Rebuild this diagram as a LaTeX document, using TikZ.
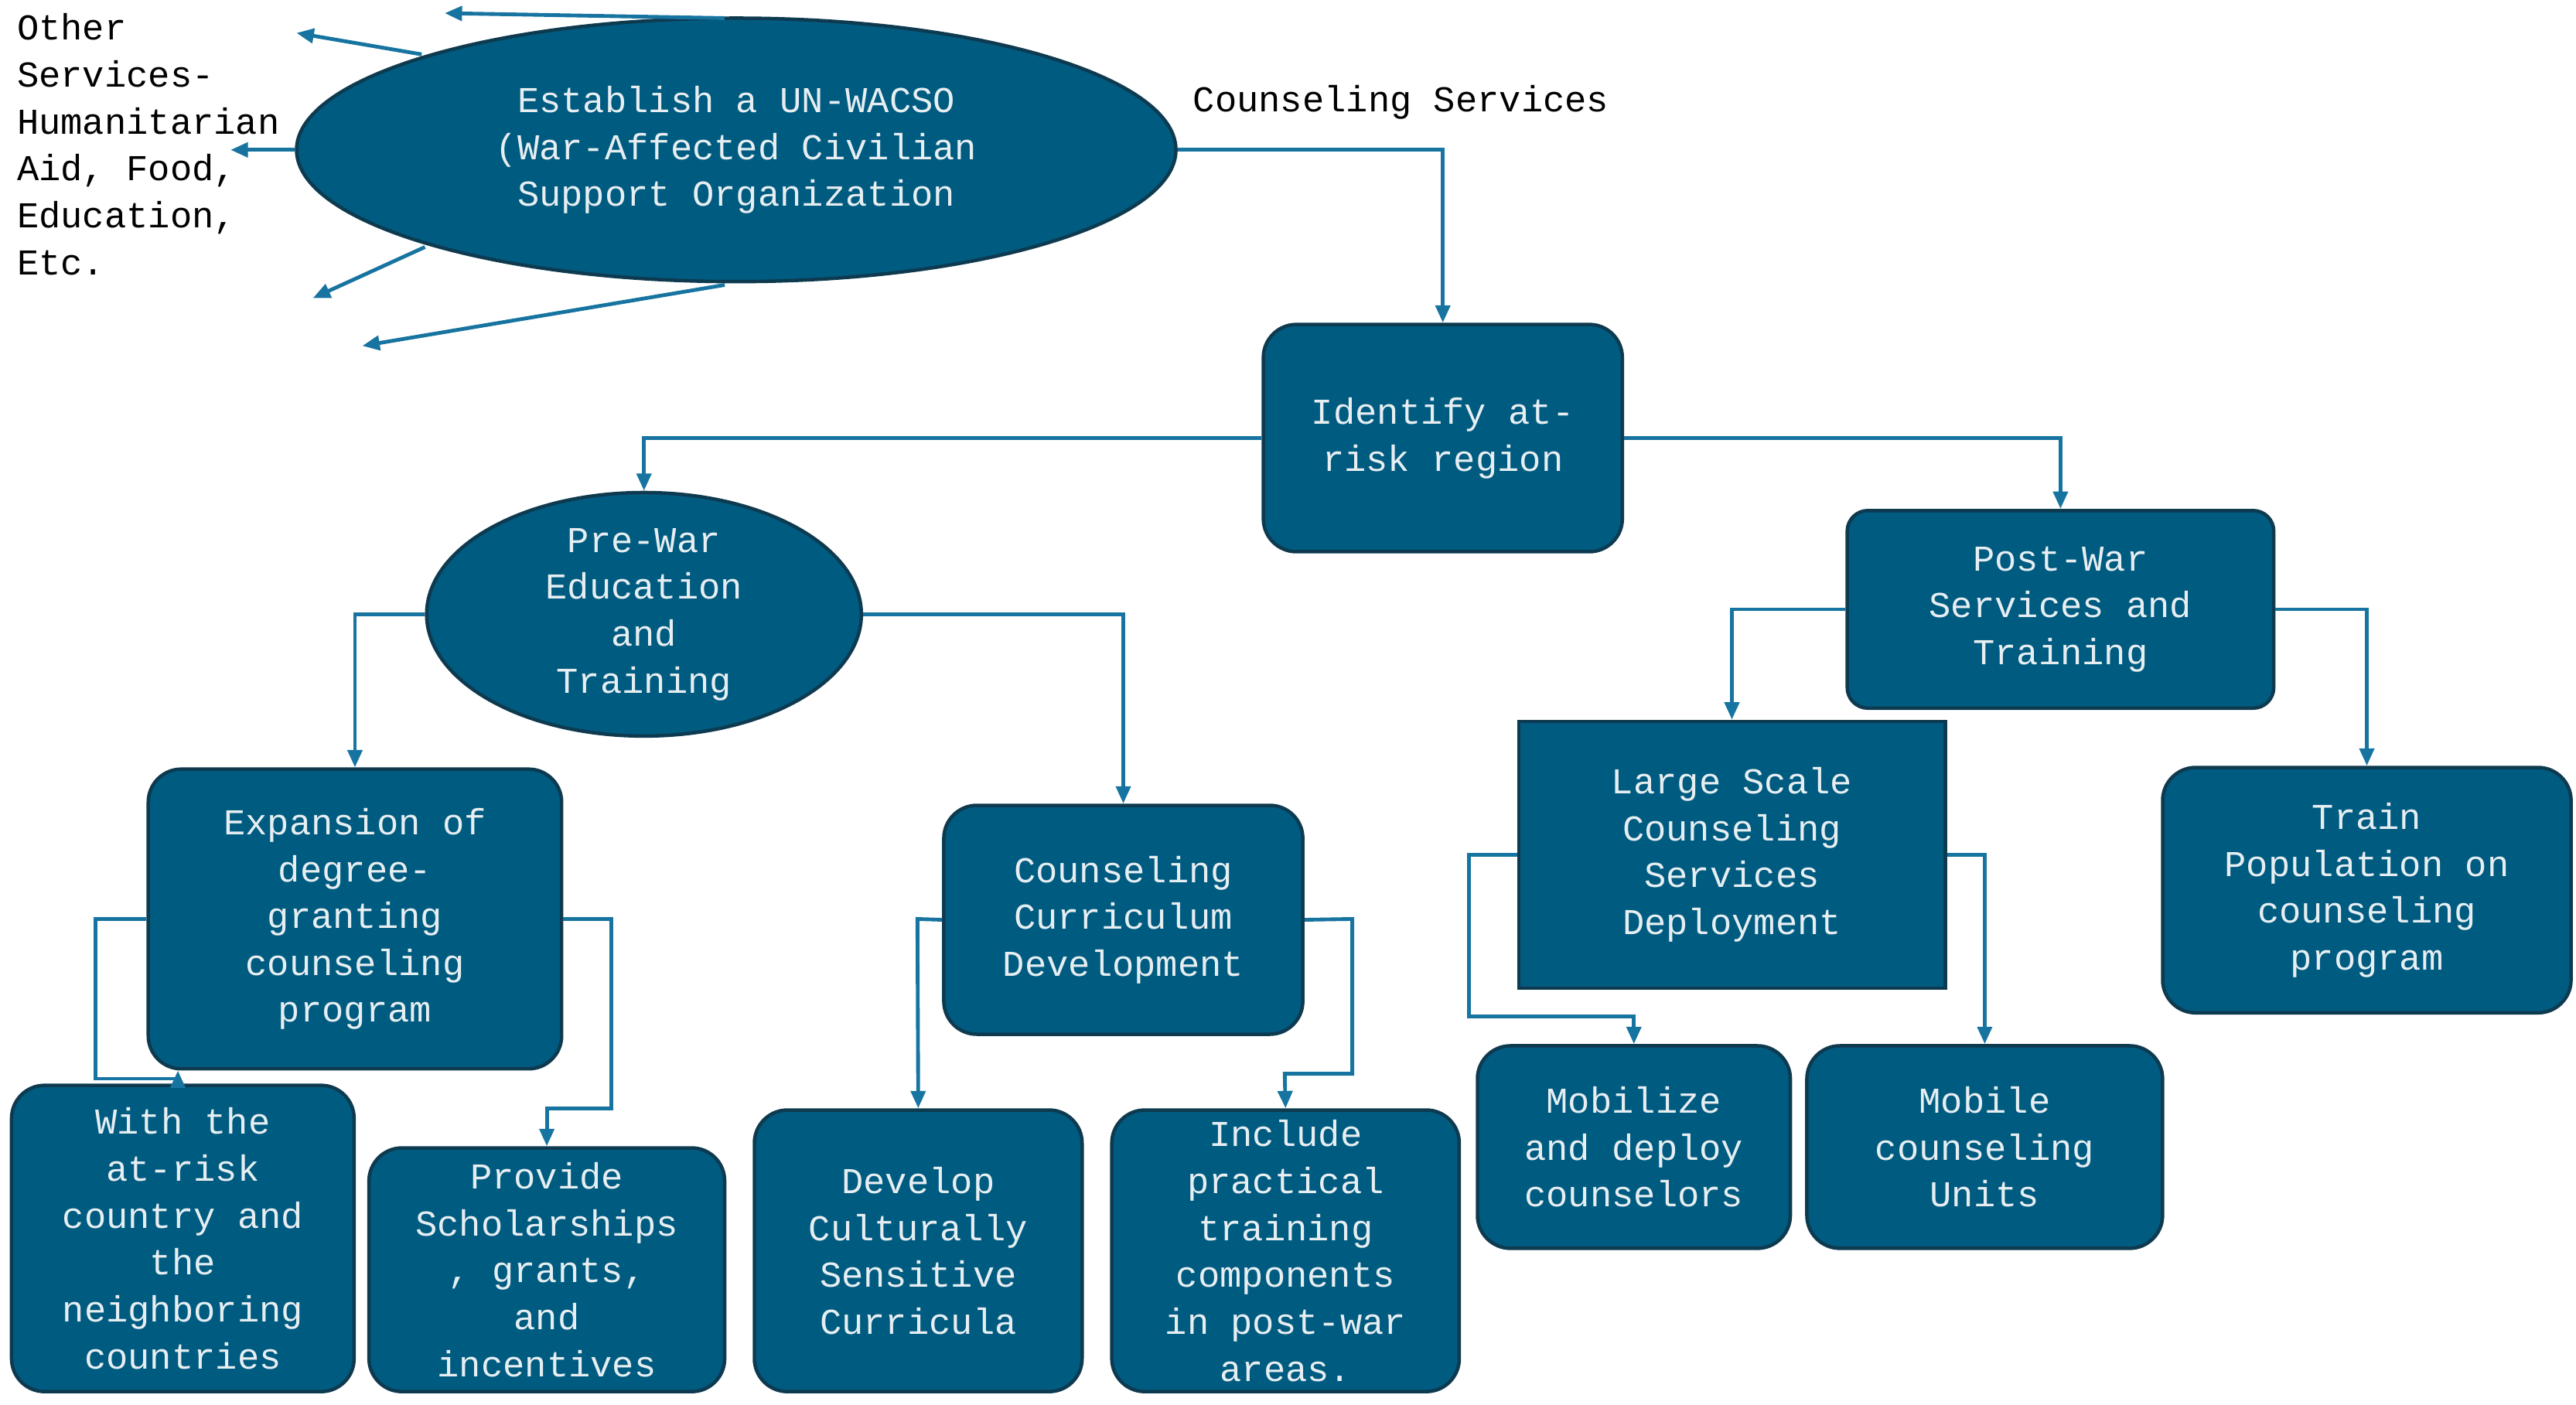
\documentclass[tikz,border=0pt]{standalone}
\usepackage{fontspec}
\setmainfont{Liberation Mono}
\usetikzlibrary{shapes.geometric,arrows.meta}
\definecolor{fillc}{HTML}{005B80}
\definecolor{edgec}{HTML}{0E3A50}
\definecolor{linec}{HTML}{1774A0}
\definecolor{txtc}{HTML}{E6EEF2}
\begin{document}
\begin{tikzpicture}[x=0.02cm,y=-0.02cm,
  every node/.style={font=\fontsize{12.6}{16.2}\selectfont, align=center, inner sep=2pt},
  box/.style={draw=edgec, line width=1.2pt, fill=fillc, text=txtc, rounded corners=0.4cm},
  sbox/.style={draw=edgec, line width=1.2pt, fill=fillc, text=txtc},
  ell/.style={draw=edgec, line width=1.2pt, fill=fillc, text=txtc, ellipse, inner sep=0pt},
  arr/.style={draw=linec, line width=1.3pt, -{Triangle[length=6pt,width=5pt]}}]
\useasboundingbox (0,0) rectangle (1564,853);

\node[ell, minimum width=10.68cm, minimum height=3.2cm] (main) at (447,91) {Establish a UN-WACSO\\(War-Affected Civilian\\Support Organization};
\node[align=left, anchor=north west, inner sep=0pt] (other) at (10,8) {Other\\Services-\\Humanitarian\\Aid, Food,\\Education,\\Etc.};
\node[anchor=west, inner sep=0pt] (cslab) at (724,62) {Counseling Services};

\node[box, minimum width=4.36cm, minimum height=2.76cm] (ident) at (876,266) {Identify at-\\risk region};
\node[ell, minimum width=5.28cm, minimum height=2.8cm] (pre) at (391,373) {Pre-War\\Education\\and\\Training};
\node[box, rounded corners=0.25cm, minimum width=5.18cm, minimum height=2.4cm] (post) at (1251,370) {Post-War\\Services and\\Training};
\node[box, minimum width=5.02cm, minimum height=3.64cm] (exp) at (215.5,558) {Expansion of\\degree-\\granting\\counseling\\program};
\node[box, minimum width=4.36cm, minimum height=2.78cm] (cur) at (682,558.5) {Counseling\\Curriculum\\Development};
\node[sbox, minimum width=5.18cm, minimum height=3.24cm] (large) at (1051.5,519) {Large Scale\\Counseling\\Services\\Deployment};
\node[box, minimum width=4.96cm, minimum height=2.98cm] (train) at (1437,540.5) {Train\\Population on\\counseling\\program};
\node[box, minimum width=4.16cm, minimum height=3.72cm] (with) at (111,752) {With the\\at-risk\\country and\\the\\neighboring\\countries};
\node[box, minimum width=4.32cm, minimum height=2.96cm] (prov) at (332,771) {Provide\\Scholarships\\, grants,\\and\\incentives};
\node[box, minimum width=3.98cm, minimum height=3.42cm] (dev) at (557.5,759.5) {Develop\\Culturally\\Sensitive\\Curricula};
\node[box, minimum width=4.22cm, minimum height=3.42cm] (incl) at (780.5,759.5) {Include\\practical\\training\\components\\in post-war\\areas.};
\node[box, minimum width=3.8cm, minimum height=2.46cm] (mob) at (992,696.5) {Mobilize\\and deploy\\counselors};
\node[box, minimum width=4.32cm, minimum height=2.46cm] (mobu) at (1205,696.5) {Mobile\\counseling\\Units};

% coordinates for free arrow ends
\coordinate (a1s) at (440,11); \coordinate (a1e) at (270,8);
\coordinate (a2s) at (256,33); \coordinate (a2e) at (180,20);
\coordinate (a3e) at (140,91);
\coordinate (a4s) at (258,150); \coordinate (a4e) at (190,181);
\coordinate (a5s) at (440,173); \coordinate (a5e) at (220,210);
\draw[arr] (a1s) -- (a1e);
\draw[arr] (a2s) -- (a2e);
\draw[arr] (main.west) -- (a3e);
\draw[arr] (a4s) -- (a4e);
\draw[arr] (a5s) -- (a5e);

\draw[arr] (main.east) -| (ident.north);
\draw[arr] (ident.west) -| (pre.north);
\draw[arr] (ident.east) -| (post.north);
\draw[arr] (pre.west) -| (exp.north);
\draw[arr] (pre.east) -| (cur.north);
\draw[arr] (post.west) -| (large.north);
\draw[arr] (post.east) -| (train.north);

\draw[arr] (exp.west) -- (58,558) -- (58,655) -- (108,655) -- (exp.south -| 108,0);
\draw[arr] (exp.east) -- (371,558) -- (371,673) -- (332,673) -- (prov.north);
\draw[arr] (cur.west) -- (557,558) -- (dev.north);
\draw[arr] (cur.east) -- (821,558) -- (821,652) -- (780,652) -- (incl.north);
\draw[arr] (large.west) -- (892,519) -- (892,617) -- (992,617) -- (mob.north);
\draw[arr] (large.east) -- (1205,519) -- (mobu.north);
\end{tikzpicture}
\end{document}
